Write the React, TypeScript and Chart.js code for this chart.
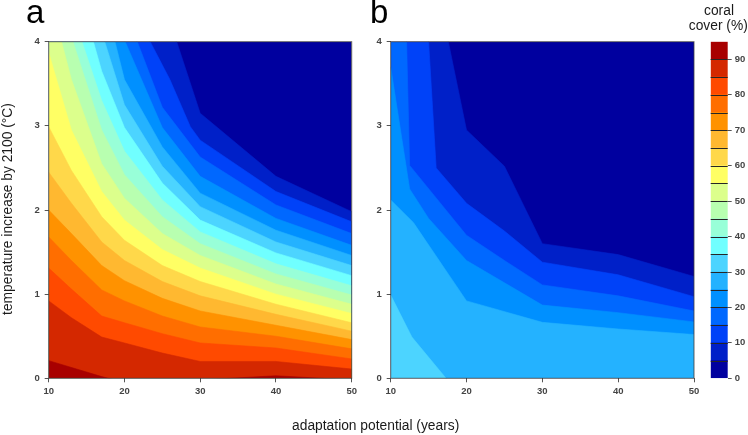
import React, { useEffect, useRef } from 'react';
import { Chart, registerables } from 'chart.js';

Chart.register(...registerables);

// ---------- data ----------
const X_TICKS = [10, 20, 30, 40, 50];
const Y_TICKS = [0, 1, 2, 3, 4];
const KEY_TICKS = [0, 10, 20, 30, 40, 50, 60, 70, 80, 90];
const KEY_LEVELS = [0, 5, 10, 15, 20, 25, 30, 35, 40, 45, 50, 55, 60, 65, 70, 75, 80, 85, 90, 95];
const BAND_COLORS = [
  '#00009f', '#0020c8', '#0042f8', '#0068ff', '#0090ff', '#24b2ff', '#4cd4ff', '#70ffff',
  '#98ffd8', '#b8ffb0', '#dcff8c', '#ffff64', '#ffd84a', '#ffb830', '#ff9200', '#ff6e00',
  '#ff4a00', '#d42800', '#a80000',
];

// panel a: contour lines [adaptation potential, temperature] for each cover level
const aC5 = [[10, 5], [26.9, 4], [30, 3.15], [40, 2.4], [50, 1.98]];
const aC10 = [[10, 5], [23.4, 4], [26, 3.55], [28.7, 2.99], [30, 2.83], [40, 2.22], [50, 1.86]];
const aC15 = [[10, 5], [21.7, 4], [25, 3.22], [30, 2.63], [40, 2.06], [50, 1.72]];
const aC20 = [[10, 5], [20.1, 4], [25, 2.98], [30, 2.4], [40, 1.9], [50, 1.58]];
const aC25 = [[10, 5], [18.75, 4], [20, 3.55], [25, 2.75], [30, 2.2], [40, 1.76], [50, 1.46]];
const aC30 = [[10, 5], [17.4, 4], [20, 3.25], [25, 2.52], [30, 2.04], [40, 1.62], [50, 1.34]];
const aC35 = [[10, 5], [15.9, 4], [17, 3.65], [20, 2.98], [25, 2.32], [30, 1.88], [40, 1.49], [50, 1.22]];
const aC40 = [[10, 4.8], [14.4, 4], [17, 3.3], [20, 2.7], [25, 2.12], [30, 1.74], [40, 1.36], [50, 1.1]];
const aC45 = [[10, 4.6], [13.2, 4], [17, 2.95], [20, 2.42], [25, 1.92], [30, 1.6], [40, 1.24], [50, 0.99]];
const aC50 = [[10, 4.3], [11.7, 4], [13, 3.55], [17, 2.55], [20, 2.14], [25, 1.72], [30, 1.46], [40, 1.12], [50, 0.88]];
const aC55 = [[10, 3.87], [13, 2.95], [17, 2.22], [20, 1.88], [25, 1.53], [30, 1.31], [40, 1.0], [50, 0.77]];
const aC60 = [[10, 2.99], [13, 2.47], [17, 1.92], [20, 1.64], [25, 1.34], [30, 1.15], [40, 0.88], [50, 0.66]];
const aC65 = [[10, 2.45], [13, 2.08], [17, 1.62], [20, 1.4], [25, 1.15], [30, 0.98], [40, 0.76], [50, 0.56]];
const aC70 = [[10, 2.0], [13, 1.72], [17, 1.34], [20, 1.16], [25, 0.95], [30, 0.8], [40, 0.63], [50, 0.46]];
const aC75 = [[10, 1.68], [13, 1.4], [17, 1.05], [20, 0.92], [25, 0.74], [30, 0.61], [40, 0.5], [50, 0.35]];
const aC80 = [[10, 1.31], [13, 1.06], [17, 0.74], [20, 0.66], [25, 0.53], [30, 0.42], [40, 0.36], [50, 0.23]];
const aC85 = [[10, 0.92], [13, 0.72], [17, 0.49], [20, 0.42], [25, 0.3], [30, 0.2], [40, 0.2], [50, 0.11]];
const aC90 = [[10, 0.21], [17, 0.02], [20, -0.05], [30, -0.02], [40, 0.03], [50, -0.02]];

// panel b
const bC5 = [[10, 6], [17.6, 4], [20, 2.95], [25, 2.52], [30, 1.6], [40, 1.47], [50, 1.21]];
const bC10 = [[10, 5], [15, 4], [16, 2.5], [20, 2.08], [25, 1.75], [30, 1.38], [40, 1.23], [50, 0.97]];
const bC15 = [[10, 4.5], [12.1, 4], [12.5, 2.53], [20, 1.7], [25, 1.4], [30, 1.11], [40, 0.98], [50, 0.8]];
const bC20 = [[10, 3.7], [12.5, 2.25], [15, 1.9], [20, 1.4], [30, 0.87], [40, 0.78], [50, 0.67]];
const bC25 = [[10, 2.12], [13, 1.85], [20, 0.92], [30, 0.665], [40, 0.586], [50, 0.52]];
const bC30 = [[10, 0.99], [12.8, 0.49], [17.3, 0], [20, -0.3]];

const PANEL_A = [
  { level: 5, pts: aC5 }, { level: 10, pts: aC10 }, { level: 15, pts: aC15 }, { level: 20, pts: aC20 },
  { level: 25, pts: aC25 }, { level: 30, pts: aC30 }, { level: 35, pts: aC35 }, { level: 40, pts: aC40 },
  { level: 45, pts: aC45 }, { level: 50, pts: aC50 }, { level: 55, pts: aC55 }, { level: 60, pts: aC60 },
  { level: 65, pts: aC65 }, { level: 70, pts: aC70 }, { level: 75, pts: aC75 }, { level: 80, pts: aC80 },
  { level: 85, pts: aC85 }, { level: 90, pts: aC90 },
];
const PANEL_B = [
  { level: 5, pts: bC5 }, { level: 10, pts: bC10 }, { level: 15, pts: bC15 },
  { level: 20, pts: bC20 }, { level: 25, pts: bC25 }, { level: 30, pts: bC30 },
];

// ---------- helpers ----------
const FONT_FAMILY = "'Liberation Sans', Arial, Helvetica, sans-serif";
const TICK_FONT = { family: FONT_FAMILY, size: 9.5, weight: 'bold' };
const TICK_COLOR = '#444';

const boxPlugin = {
  id: 'plotBox',
  afterDatasetsDraw(chart: any) {
    const { ctx, chartArea: a } = chart;
    ctx.save();
    ctx.strokeStyle = 'rgba(60,60,60,0.8)';
    ctx.lineWidth = 1;
    ctx.strokeRect(a.left, a.top, a.right - a.left, a.bottom - a.top);
    ctx.restore();
  },
};

const keySeparators = {
  id: 'keySeparators',
  afterDatasetsDraw(chart: any) {
    const { ctx, chartArea: a } = chart;
    const ys = chart.scales.y;
    ctx.save();
    ctx.strokeStyle = '#262626';
    ctx.lineWidth = 1;
    ctx.beginPath();
    KEY_LEVELS.slice(1, -1).forEach((lv) => {
      const py = Math.round(ys.getPixelForValue(lv)) + 0.5;
      ctx.moveTo(a.left, py);
      ctx.lineTo(a.right, py);
    });
    ctx.stroke();
    ctx.restore();
  },
};

function contourConfig(contours: { level: number; pts: number[][] }[], yAxisWidth: number, rightPad: number) {
  const sorted = [...contours].sort((p, q) => q.level - p.level);
  const datasets: any[] = sorted.map((c) => {
    const col = BAND_COLORS[c.level / 5];
    return {
      label: 'cover ' + c.level,
      data: c.pts.map(([x, y]) => ({ x, y })),
      backgroundColor: col,
      borderColor: col,
      borderWidth: 0.6,
      pointRadius: 0,
      fill: 'start',
      tension: 0,
    };
  });
  datasets.push({
    label: 'cover 0',
    data: [{ x: 10, y: 10 }, { x: 50, y: 10 }],
    backgroundColor: BAND_COLORS[0],
    borderColor: BAND_COLORS[0],
    borderWidth: 0.6,
    pointRadius: 0,
    fill: 'start',
  });
  return {
    type: 'line',
    data: { datasets },
    plugins: [boxPlugin],
    options: {
      animation: false,
      responsive: false,
      events: [],
      layout: { padding: { top: 41.7, right: rightPad, bottom: 0, left: 0 } },
      plugins: { legend: { display: false }, tooltip: { enabled: false } },
      scales: {
        x: {
          type: 'linear',
          min: X_TICKS[0],
          max: X_TICKS[X_TICKS.length - 1],
          afterBuildTicks: (s: any) => { s.ticks = X_TICKS.map((v) => ({ value: v })); },
          afterFit: (s: any) => { s.height = 435 - 378.3; },
          ticks: { font: TICK_FONT, color: TICK_COLOR, padding: 3, maxRotation: 0 },
          grid: { display: true, drawOnChartArea: false, drawTicks: true, tickLength: 4, color: '#555' },
          border: { display: false },
        },
        y: {
          type: 'linear',
          min: Y_TICKS[0],
          max: Y_TICKS[Y_TICKS.length - 1],
          afterBuildTicks: (s: any) => { s.ticks = Y_TICKS.map((v) => ({ value: v })); },
          afterFit: (s: any) => { s.width = yAxisWidth; },
          ticks: { font: TICK_FONT, color: TICK_COLOR, padding: 5 },
          grid: { display: true, drawOnChartArea: false, drawTicks: true, tickLength: 4, color: '#555' },
          border: { display: false },
        },
      },
    },
  };
}

function keyConfig() {
  const datasets = BAND_COLORS.map((col, i) => ({
    label: KEY_LEVELS[i] + '-' + KEY_LEVELS[i + 1],
    data: [KEY_LEVELS[i + 1] - KEY_LEVELS[i]],
    backgroundColor: col,
    borderWidth: 0,
    barPercentage: 1,
    categoryPercentage: 1,
  }));
  return {
    type: 'bar',
    data: { labels: [''], datasets },
    plugins: [keySeparators],
    options: {
      animation: false,
      responsive: false,
      events: [],
      layout: { padding: { top: 41.7, right: 0, bottom: 56.7, left: 10.7 } },
      plugins: { legend: { display: false }, tooltip: { enabled: false } },
      scales: {
        x: { stacked: true, display: false },
        y: {
          stacked: true,
          position: 'right',
          min: KEY_LEVELS[0],
          max: KEY_LEVELS[KEY_LEVELS.length - 1],
          afterBuildTicks: (s: any) => { s.ticks = KEY_TICKS.map((v) => ({ value: v })); },
          afterFit: (s: any) => { s.width = 48 - 27.7; },
          ticks: { font: TICK_FONT, color: TICK_COLOR, padding: 3 },
          grid: { display: true, drawOnChartArea: false, drawTicks: true, tickLength: 4, color: '#555' },
          border: { display: false },
        },
      },
    },
  };
}

export default function App() {
  const aRef = useRef<HTMLCanvasElement>(null);
  const bRef = useRef<HTMLCanvasElement>(null);
  const kRef = useRef<HTMLCanvasElement>(null);

  useEffect(() => {
    const ca = new Chart(aRef.current as any, contourConfig(PANEL_A, 48.7, 22.3) as any);
    const cb = new Chart(bRef.current as any, contourConfig(PANEL_B, 45.7, 11) as any);
    const ck = new Chart(kRef.current as any, keyConfig() as any);
    return () => { ca.destroy(); cb.destroy(); ck.destroy(); };
  }, []);

  const textStyle = { fontFamily: FONT_FAMILY, fill: '#1a1a1a' } as any;

  return (
    <div style={{ position: 'fixed', left: 0, top: 0, width: 748, height: 435, background: '#fff', overflow: 'hidden' }}>
      <canvas ref={aRef} width={374} height={435} style={{ position: 'absolute', left: 0, top: 0, width: 374, height: 435 }} />
      <canvas ref={bRef} width={360} height={435} style={{ position: 'absolute', left: 345, top: 0, width: 360, height: 435 }} />
      <canvas ref={kRef} width={48} height={435} style={{ position: 'absolute', left: 700, top: 0, width: 48, height: 435 }} />
      <svg width={748} height={435} style={{ position: 'absolute', left: 0, top: 0, pointerEvents: 'none' }}>
        <text x={26} y={23} style={{ ...textStyle, fill: '#000' }} fontSize={33}>a</text>
        <text x={370} y={23} style={{ ...textStyle, fill: '#000' }} fontSize={33}>b</text>
        <text x={719} y={15} textAnchor="middle" style={textStyle} fontSize={13.8}>coral</text>
        <text x={718.3} y={30} textAnchor="middle" style={textStyle} fontSize={13.8}>cover (%)</text>
        <text x={375.7} y={430} textAnchor="middle" style={textStyle} fontSize={13.8}>adaptation potential (years)</text>
        <text transform="translate(11.5,209) rotate(-90)" x={0} y={0} textAnchor="middle" style={textStyle} fontSize={13.8}>temperature increase by 2100 (°C)</text>
      </svg>
    </div>
  );
}
